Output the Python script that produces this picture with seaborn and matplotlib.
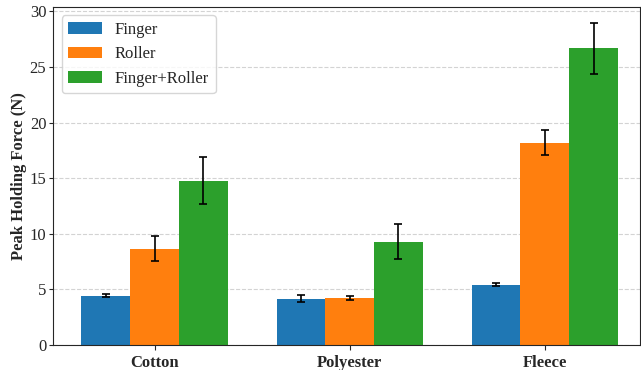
import numpy as np
import pandas as pd
import matplotlib
matplotlib.use("Agg")
import matplotlib.pyplot as plt
import seaborn as sns

# --- du lieu doc tu hinh ---
fabrics = ["Cotton", "Polyester", "Fleece"]
methods = ["Finger", "Roller", "Finger+Roller"]
finger_mean = [4.42, 4.14, 5.42]
finger_err = [0.14, 0.32, 0.12]
roller_mean = [8.65, 4.24, 18.2]
roller_err = [1.11, 0.2, 1.13]
combo_mean = [14.77, 9.28, 26.67]
combo_err = [2.12, 1.58, 2.31]
colors = ["#1f77b4", "#ff7f0e", "#2ca02c"]

sns.set_style("ticks")
plt.rcParams["font.family"] = ["Liberation Serif", "DejaVu Serif"]

rows = []
for m, means, errs in zip(methods,
                          [finger_mean, roller_mean, combo_mean],
                          [finger_err, roller_err, combo_err]):
    for f, v, e in zip(fabrics, means, errs):
        rows.append({"fabric": f, "method": m, "force": v, "err": e})
df = pd.DataFrame(rows)

fig, ax = plt.subplots(figsize=(6.41, 3.70), dpi=100)
sns.barplot(data=df, x="fabric", y="force", hue="method", order=fabrics,
            hue_order=methods, palette=colors, width=0.75, errorbar=None,
            saturation=1, linewidth=0, ax=ax, zorder=2)

# error bars tai tam moi cot
for i, m in enumerate(methods):
    cont = ax.containers[i]
    sub = df[df["method"] == m].set_index("fabric").loc[fabrics]
    xs = [p.get_x() + p.get_width() / 2 for p in cont.patches]
    ax.errorbar(xs, sub["force"], yerr=sub["err"], fmt="none",
                ecolor="black", elinewidth=1.2, capsize=3, capthick=1.2,
                zorder=3)

ax.set_ylim(0, 30.4)
ax.set_xlim(-0.52, 2.49)
ax.set_xlabel("")
ax.set_ylabel("Peak Holding Force (N)", fontsize=12, fontweight="bold",
              labelpad=2)
ax.tick_params(axis="y", labelsize=12, length=3, pad=2)
ax.tick_params(axis="x", labelsize=12, length=3.5, pad=4)
for lab in ax.get_xticklabels():
    lab.set_fontweight("bold")
ax.yaxis.grid(True, linestyle="--", color="#c8c8c8", alpha=0.8, zorder=0)
ax.set_axisbelow(True)
for s in ax.spines.values():
    s.set_visible(True)
ax.legend(loc="upper left", fontsize=12, title=None)

fig.subplots_adjust(left=0.083, right=0.999, top=0.981, bottom=0.068)
fig.savefig("out.png", dpi=100)
